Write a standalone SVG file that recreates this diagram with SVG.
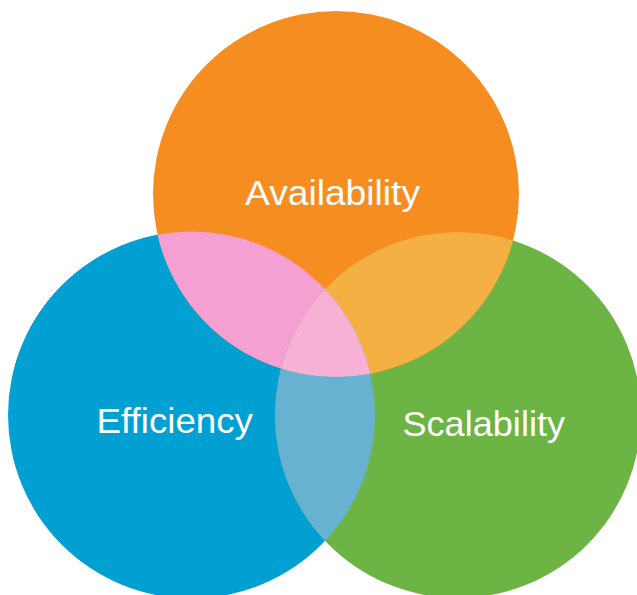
<svg xmlns="http://www.w3.org/2000/svg" width="637" height="595" viewBox="0 0 637 595">
<style>
.lbl{font-family:"Liberation Sans",Arial,sans-serif;fill:#ffffff;font-size:35px}
</style>
<defs>
<clipPath id="cA"><circle cx="336" cy="194" r="183"/></clipPath>
<clipPath id="cE"><circle cx="191.5" cy="415" r="183.5"/></clipPath>
<clipPath id="cS"><circle cx="458" cy="415" r="183"/></clipPath>
</defs>
<rect width="637" height="595" fill="#ffffff"/>
<g id="node-efficiency">
<circle cx="191.5" cy="415" r="183.5" fill="#00A1D2"/>
</g>
<g id="node-scalability">
<circle cx="458" cy="415" r="183" fill="#6CB444"/>
</g>
<g id="node-availability">
<circle cx="336" cy="194" r="183" fill="#F68D21"/>
</g>
<g id="overlaps">
<circle cx="191.5" cy="415" r="183.5" fill="#F4A0D3" clip-path="url(#cA)"/>
<circle cx="458" cy="415" r="183" fill="#F5B043" clip-path="url(#cA)"/>
<circle cx="458" cy="415" r="183" fill="#68B2D1" clip-path="url(#cE)"/>
<g clip-path="url(#cA)"><circle cx="458" cy="415" r="183" fill="#F6B1D4" clip-path="url(#cE)"/></g>
</g>
<g id="labels">
<text class="lbl" x="245" y="204.5" font-size="36" textLength="175" lengthAdjust="spacingAndGlyphs">Availability</text>
<text class="lbl" x="96.5" y="432.5" textLength="156.5" lengthAdjust="spacingAndGlyphs">Efficiency</text>
<text class="lbl" x="402.5" y="435.5" textLength="162.5" lengthAdjust="spacingAndGlyphs">Scalability</text>
</g>
<g id="connectors"/>
</svg>
